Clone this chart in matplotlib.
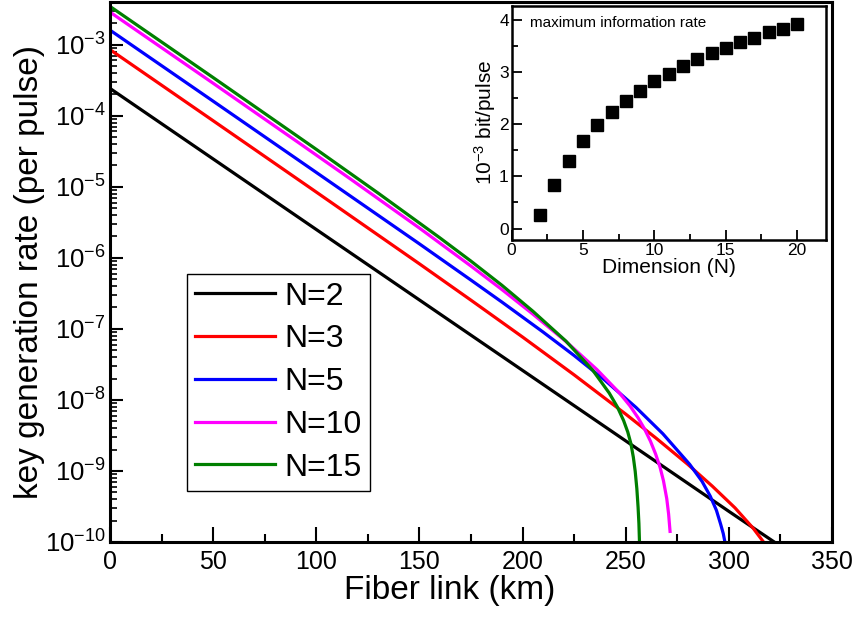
import matplotlib
matplotlib.use('Agg')
import matplotlib.pyplot as plt
import numpy as np

plt.rcParams['font.family'] = ['Liberation Sans', 'DejaVu Sans']
plt.rcParams['mathtext.fontset'] = 'custom'
plt.rcParams['mathtext.rm'] = 'Liberation Sans'
plt.rcParams['mathtext.it'] = 'Liberation Sans:italic'

# key generation rate vs fiber length
km_n2 = [0, 100, 200, 300, 322]
rate_n2 = [2.42e-4, 2.5e-6, 2.6e-8, 2.7e-10, 1.0e-10]

km_n3 = [0, 50, 100, 150, 175, 200, 225, 250, 265, 280, 292, 303, 311.8, 316.7]
rate_n3 = [8.51e-4, 8.49e-5, 8.41e-6, 8.22e-7, 2.53e-7, 7.67e-8, 2.25e-8, 6.31e-9,
           2.85e-9, 1.245e-9, 6.1e-10, 3.02e-10, 1.56e-10, 1.01e-10]

km_n5 = [0, 50, 100, 150, 175, 190, 210, 225, 240, 255, 268, 281, 287, 291, 294,
         296, 297.3, 298.1]
rate_n5 = [1.6e-3, 1.6e-4, 1.59e-5, 1.57e-6, 4.85e-7, 2.38e-7, 8.99e-8, 4.21e-8,
           1.88e-8, 7.83e-9, 3.34e-9, 1.24e-9, 7.14e-10, 4.41e-10, 2.78e-10,
           1.79e-10, 1.31e-10, 1.0e-10]

km_n10 = [0, 50, 92, 116, 150, 175, 190, 205, 221, 236, 247, 252, 256, 259, 262,
          264.5, 266.6, 268.3, 269.9, 270.8, 271.5]
rate_n10 = [2.87e-3, 2.86e-4, 4.06e-5, 1.32e-5, 2.62e-6, 7.64e-7, 3.57e-7, 1.61e-7,
            6.65e-8, 2.68e-8, 1.25e-8, 8.28e-9, 5.6e-9, 3.96e-9, 2.62e-9, 1.73e-9,
            1.14e-9, 7.28e-10, 4.07e-10, 2.47e-10, 1.41e-10]

km_n15 = [0, 50, 100, 130, 160, 175, 190, 205, 221, 234, 242, 246, 249, 251, 252.5,
          253.7, 254.6, 255.4, 256, 256.4, 256.7]
rate_n15 = [3.45e-3, 3.44e-4, 3.36e-5, 8.13e-6, 1.9e-6, 8.97e-7, 4.1e-7, 1.77e-7,
            6.73e-8, 2.62e-8, 1.25e-8, 7.91e-9, 5.1e-9, 3.53e-9, 2.44e-9, 1.56e-9,
            9.9e-10, 5.62e-10, 3.08e-10, 1.82e-10, 9.6e-11]

# inset: maximum information rate (10^-3 bit/pulse)
dims = list(range(2, 21))
max_rate = [0.25, 0.84, 1.30, 1.67, 1.99, 2.23, 2.45, 2.64, 2.82, 2.97, 3.11, 3.24,
            3.36, 3.46, 3.57, 3.66, 3.76, 3.83, 3.91]

fig = plt.figure(figsize=(8.57, 6.26), dpi=100)
ax = fig.add_axes([0.1284, 0.1342, 0.8424, 0.8628])

curves = [(km_n2, rate_n2, 'black', 'N=2'),
          (km_n3, rate_n3, '#ff0000', 'N=3'),
          (km_n5, rate_n5, '#0000ff', 'N=5'),
          (km_n10, rate_n10, '#ff00ff', 'N=10'),
          (km_n15, rate_n15, '#007f00', 'N=15')]
for x, y, c, lab in curves:
    ax.plot(x, y, color=c, lw=2.3, label=lab, solid_joinstyle='round')

ax.set_yscale('log')
ax.set_xlim(0, 350)
ax.set_ylim(1e-10, 4e-3)
ax.set_xticks(np.arange(0, 351, 50))
ax.set_xticks(np.arange(0, 351, 25), minor=True)
ax.set_yticks([10.0 ** k for k in range(-10, -2)])
ax.tick_params(axis='both', which='both', direction='in', top=False, right=False)
ax.tick_params(axis='x', which='major', length=11, width=1.5, labelsize=18, pad=6)
ax.tick_params(axis='x', which='minor', length=6, width=1.5)
ax.tick_params(axis='y', which='major', length=9, width=1.5, labelsize=18.5, pad=3)
ax.tick_params(axis='y', which='minor', length=5, width=1.2)
for s in ax.spines.values():
    s.set_linewidth(2.2)
ax.set_xlabel('Fiber link (km)', fontsize=24)
ax.xaxis.set_label_coords(0.471, -0.062)
ax.set_ylabel('key generation rate (per pulse)', fontsize=24, labelpad=0)

leg = ax.legend(loc='upper left', bbox_to_anchor=(0.1066, 0.497), borderaxespad=0,
                fontsize=23, frameon=True, fancybox=False, edgecolor='black',
                framealpha=1, handlelength=2.5, handletextpad=0.3,
                labelspacing=0.4, borderpad=0.25)
leg.get_frame().set_linewidth(1.0)

# inset
ins = fig.add_axes([0.597, 0.6166, 0.3665, 0.3743])
ins.plot(dims, max_rate, 's', color='black', markersize=8.5)
ins.set_xlim(0, 22)
ins.set_ylim(-0.22, 4.27)
ins.set_xticks([0, 5, 10, 15, 20])
ins.set_xticks(np.arange(0, 22, 2.5), minor=True)
ins.set_yticks([0, 1, 2, 3, 4])
ins.set_yticks(np.arange(0, 4.3, 0.5), minor=True)
ins.tick_params(axis='both', which='both', direction='in', top=False, right=False)
ins.tick_params(axis='both', which='major', length=7, width=1.3, labelsize=12.5, pad=2)
ins.tick_params(axis='both', which='minor', length=4, width=1.3)
for s in ins.spines.values():
    s.set_linewidth(1.8)
ins.set_xlabel('Dimension (N)', fontsize=15, labelpad=0)
ins.set_ylabel('10$^{-3}$ bit/pulse', fontsize=15, labelpad=1)
ins.text(0.058, 0.927, 'maximum information rate', transform=ins.transAxes,
         fontsize=11, va='center', ha='left')

fig.savefig('out.png', dpi=100)
